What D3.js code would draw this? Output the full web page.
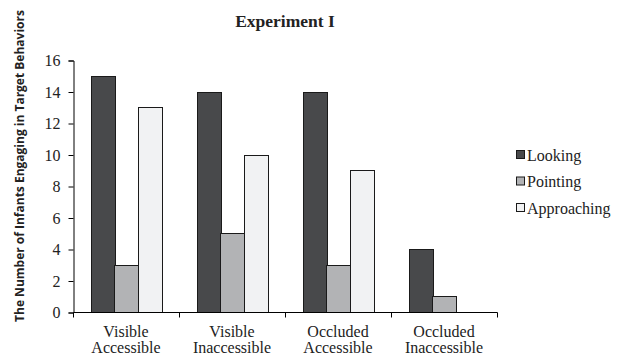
<!DOCTYPE html>
<html><head><meta charset="utf-8">
<script src="https://cdn.jsdelivr.net/npm/d3@7"></script>
<style>body{margin:0;background:#fff}svg{display:block}</style>
</head><body>
<svg id="c" width="624" height="356"></svg>
<script>
const categories = [["Visible","Accessible"],["Visible","Inaccessible"],["Occluded","Accessible"],["Occluded","Inaccessible"]];
const seriesNames = ["Looking","Pointing","Approaching"];
const looking = [15,14,14,4];
const pointing = [3,5,3,1];
const approaching = [13,10,9,0];
const yTicks = [0,2,4,6,8,10,12,14,16];
const colors = ["#48494b","#b2b3b5","#f1f2f3"];
const series = [looking, pointing, approaching];

const serif = "'Liberation Serif', 'Times New Roman', serif";
const svg = d3.select("#c");
const x0 = 73, x1 = 497, yTop = 60, yBot = 312;
const catKeys = categories.map((c,i)=>i);
const x = d3.scaleBand().domain(catKeys).range([x0,x1]).paddingInner(0).paddingOuter(0);
const xs = d3.scaleBand().domain(seriesNames).range([0,x.bandwidth()]).paddingInner(0).paddingOuter(0.75);
const y = d3.scaleLinear().domain([0,16]).range([yBot,yTop]);

// bars
seriesNames.forEach((s,si)=>{
  svg.append("g").selectAll("rect").data(series[si]).join("rect")
    .filter(d=>d>0)
    .attr("x",(d,i)=>Math.round(x(i)+xs(s))+0.5)
    .attr("y",d=>Math.round(y(d))+0.5)
    .attr("width",Math.round(xs.bandwidth()))
    .attr("height",d=>Math.round(y(0))-Math.round(y(d)))
    .attr("fill",colors[si]).attr("stroke","#1a1a1a").attr("stroke-width",1);
});

// y axis
const ya = d3.axisLeft(y).tickValues(yTicks).tickSize(5).tickPadding(8).tickFormat(d3.format("d"));
const gy = svg.append("g").attr("transform",`translate(${x0+0.5},0.5)`).call(ya);
gy.select(".domain").attr("stroke","#000");
gy.selectAll(".tick line").attr("stroke","#000");
gy.selectAll("text").attr("font-family",serif).attr("font-size","16px").attr("fill","#222");

// x axis
const xb = d3.scaleLinear().domain([0,4]).range([x0,x1]);
const gx = svg.append("g").attr("transform",`translate(0.5,${yBot+0.5})`);
gx.append("line").attr("x1",x0).attr("x2",x1).attr("stroke","#000");
gx.selectAll("line.t").data(d3.range(0,5)).join("line").attr("class","t")
  .attr("x1",d=>Math.round(xb(d))).attr("x2",d=>Math.round(xb(d))).attr("y1",0).attr("y2",5).attr("stroke","#000");
const lbl = svg.append("g").selectAll("text").data(categories).join("text")
  .attr("x",(d,i)=>x(i)+x.bandwidth()/2)
  .attr("text-anchor","middle")
  .attr("font-family",serif).attr("font-size","16px").attr("fill","#222");
lbl.append("tspan").attr("x",(d,i)=>x(i)+x.bandwidth()/2).attr("y",337).text(d=>d[0]);
lbl.append("tspan").attr("x",(d,i)=>x(i)+x.bandwidth()/2).attr("y",353).text(d=>d[1]);

// title
svg.append("text").attr("x",285).attr("y",27).attr("text-anchor","middle")
  .attr("font-family",serif).attr("font-weight","bold").attr("font-size","17.5px").attr("fill","#222")
  .text("Experiment I");

// y label
svg.append("text").attr("transform","translate(24,166) rotate(-90)").attr("text-anchor","middle")
  .attr("font-family","'Open Sans', sans-serif").attr("font-weight","bold").attr("font-size","12px").attr("fill","#222")
  .text("The Number of Infants Engaging in Target Behaviors");

// legend
const lg = svg.append("g").selectAll("g").data(seriesNames).join("g")
  .attr("transform",(d,i)=>`translate(516,${155+i*26.5})`);
lg.append("rect").attr("x",0.5).attr("y",-4.5).attr("width",8).attr("height",8)
  .attr("fill",(d,i)=>colors[i]).attr("stroke","#1a1a1a");
lg.append("text").attr("x",11).attr("y",5.5).text(d=>d)
  .attr("font-family",serif).attr("font-size","16px").attr("fill","#222");
</script>
</body></html>
